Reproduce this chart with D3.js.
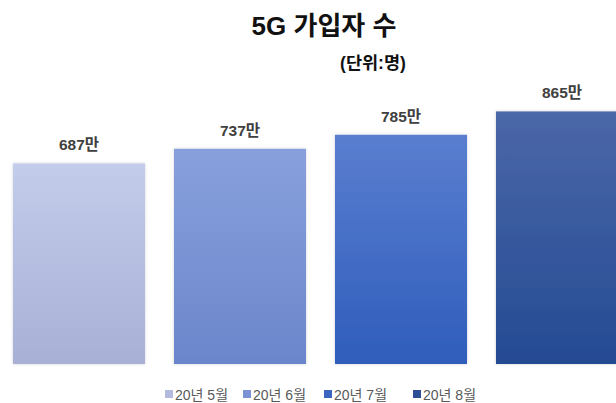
<!DOCTYPE html>
<html>
<head>
<meta charset="utf-8">
<script src="https://cdn.jsdelivr.net/npm/d3@7"></script>
<style>
  html, body { margin: 0; padding: 0; background: #fff; overflow: hidden; }
  svg { display: block; font-family: "Liberation Sans", Arial, "Noto Sans CJK KR", sans-serif; }
</style>
</head>
<body>
<svg id="chart" width="616" height="403"></svg>
<script>
// 5G subscribers by month (unit: 만명)
const categories = ["20년 5월", "20년 6월", "20년 7월", "20년 8월"];
const values = [687, 737, 785, 865];
const valueLabels = ["687만", "737만", "785만", "865만"];
const topColors = ["#c4cceb", "#88a0dc", "#5a7ed0", "#4b67a8"];
const bottomColors = ["#a8b0d6", "#6b86cb", "#2f5dbb", "#244b93"];
const legendColors = ["#b3badd", "#7b93d5", "#3a64c0", "#2e4f96"];

const W = 616, H = 403;
const svg = d3.select("#chart");

const x = d3.scaleBand()
  .domain(categories)
  .range([-1.5, 642.5])
  .paddingInner(0.18)
  .paddingOuter(0.09);

const y = d3.scaleLinear().domain([0, 1000]).range([364, 72]);

const defs = svg.append("defs");
categories.forEach((c, i) => {
  const g = defs.append("linearGradient")
    .attr("id", "grad" + i)
    .attr("x1", 0).attr("y1", 0).attr("x2", 0).attr("y2", 1);
  g.append("stop").attr("offset", "0%").attr("stop-color", topColors[i]);
  g.append("stop").attr("offset", "100%").attr("stop-color", bottomColors[i]);
});

const shadow = defs.append("filter").attr("id", "soft")
  .attr("x", "-10%").attr("y", "-10%").attr("width", "120%").attr("height", "120%");
shadow.append("feDropShadow")
  .attr("dx", 0).attr("dy", 0).attr("stdDeviation", 1.5)
  .attr("flood-color", "#000").attr("flood-opacity", 0.18);

// Title
svg.append("text")
  .attr("x", 324).attr("y", 35)
  .attr("text-anchor", "middle")
  .attr("font-size", 26).attr("font-weight", "bold")
  .attr("fill", "#111")
  .text("5G 가입자 수");

svg.append("text")
  .attr("x", 373).attr("y", 69)
  .attr("text-anchor", "middle")
  .attr("font-size", 17.5).attr("font-weight", "bold")
  .attr("fill", "#111")
  .text("(단위:명)");

// Bars
svg.append("g").selectAll("rect")
  .data(values)
  .join("rect")
  .attr("x", (d, i) => x(categories[i]))
  .attr("y", d => y(d))
  .attr("width", x.bandwidth())
  .attr("height", d => y(0) - y(d))
  .attr("fill", (d, i) => `url(#grad${i})`)
  .attr("filter", "url(#soft)");

// Value labels
svg.append("g").selectAll("text")
  .data(values)
  .join("text")
  .attr("x", (d, i) => x(categories[i]) + x.bandwidth() / 2)
  .attr("y", d => y(d) - 13)
  .attr("text-anchor", "middle")
  .attr("font-size", 15.5).attr("font-weight", "bold")
  .attr("fill", "#404040")
  .text((d, i) => valueLabels[i]);

// Legend
const legendX = [165, 243, 324, 413];
const legend = svg.append("g");
categories.forEach((c, i) => {
  legend.append("rect")
    .attr("x", legendX[i]).attr("y", 390)
    .attr("width", 8).attr("height", 8)
    .attr("fill", legendColors[i]);
  legend.append("text")
    .attr("x", legendX[i] + 10).attr("y", 400)
    .attr("font-size", 14)
    .attr("fill", "#595959")
    .text(c);
});
</script>
</body>
</html>
